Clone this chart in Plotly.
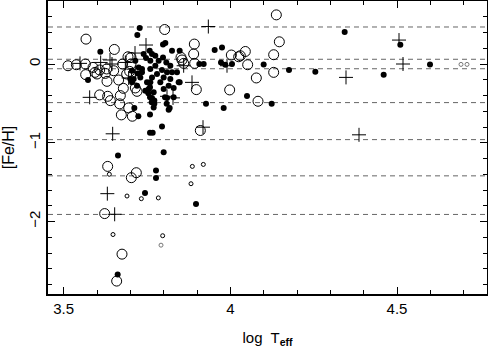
import plotly.graph_objects as go

# filled circles
filled_teff = [3.728, 3.721, 3.610, 3.573, 3.712, 3.759, 3.767, 3.795, 3.800, 3.663,
               3.777, 3.777, 3.744, 3.897, 3.662, 3.927, 3.980, 4.050, 3.953, 3.975,
               3.972, 3.985, 3.907, 3.920, 3.815, 3.770, 3.772, 3.848, 4.343, 4.510,
               4.100, 4.176, 4.255, 4.460, 4.599, 4.124, 3.759, 3.724, 3.805, 3.798,
               3.758, 3.825, 3.848, 3.775, 3.798, 3.785, 3.760, 3.808, 3.820, 3.775,
               3.760, 3.795, 3.810, 3.825, 3.780, 3.840, 3.765, 3.800, 3.820, 3.790,
               3.815, 3.800, 3.760, 3.755, 3.770, 3.830, 3.845, 4.005, 3.740, 3.715,
               3.725, 3.735, 3.705, 3.730, 3.710, 3.720, 3.750, 3.745, 3.830, 3.810,
               3.765, 3.700, 3.705, 3.722, 3.735, 3.747, 3.765, 3.759, 3.772, 3.818,
               3.754, 3.759, 3.764, 3.804, 3.809]
filled_feh = [0.456, 0.367, 0.156, -0.203, -0.557, -0.873, -0.873, -0.794, -1.119, -1.161,
              -1.351, -1.448, -1.638, -1.777, -2.671, -0.506, -0.557, -0.405, 0.177, 0.210,
              0.020, -0.009, 0.0, 0.0, -0.582, -0.553, -0.506, -0.233, 0.405, 0.244,
              -0.005, -0.076, -0.097, -0.135, -0.005, -0.506, -0.642, -0.663, 0.266, 0.248,
              0.168, 0.168, 0.168, 0.105, 0.084, 0.042, 0.042, 0.020, -0.022, -0.022,
              -0.063, -0.076, -0.106, -0.106, -0.127, -0.106, -0.170, -0.170, -0.190, -0.233,
              -0.275, -0.316, -0.233, -0.316, -0.359, -0.304, -0.233, 0.0, 0.127, 0.042,
              -0.043, -0.106, -0.085, -0.170, -0.190, -0.275, -0.233, -0.338, -0.423, -0.430,
              -0.430, -0.190, -0.233, -0.119, -0.063, 0.076, 0.127, -0.296, -0.464, -0.557,
              -0.372, -0.423, -0.486, -0.423, -0.506]

# open circles
open_teff = [3.567, 3.652, 3.803, 3.513, 3.538, 3.565, 3.566, 3.588, 3.608, 3.600,
             3.625, 3.630, 3.650, 3.665, 3.679, 3.677, 3.693, 3.702, 3.698, 3.715,
             3.720, 3.608, 3.632, 3.640, 3.670, 3.668, 3.695, 3.673, 3.706, 3.632,
             3.718, 3.703, 3.890, 3.855, 3.852, 3.860, 3.893, 3.898, 3.910, 3.998,
             4.003, 4.025, 4.045, 4.052, 4.138, 4.147, 4.130, 4.130, 4.078, 4.083,
             3.623, 3.675, 3.659, 3.892, 4.030, 3.594, 3.702, 3.689, 3.629]
open_feh = [0.316, 0.185, 0.438, -0.022, -0.009, 0.0, -0.135, -0.043, -0.076, -0.127,
            -0.119, -0.220, -0.085, -0.203, -0.309, 0.0, 0.092, 0.0, -0.094, -0.304,
            -0.347, -0.392, -0.410, -0.465, -0.401, -0.506, -0.557, -0.646, -0.663, -1.300,
            -1.380, -1.443, 0.127, 0.051, 0.084, 0.008, 0.008, -0.325, -0.844, -0.329,
            0.114, 0.092, 0.159, -0.009, 0.624, 0.282, 0.118, -0.106, -0.177, -0.473,
            -1.899, -2.414, -2.756, 0.253, 0.105, -0.106, 0.084, -0.127, -0.063]

# plus signs
plus_teff = [3.934, 3.747, 3.714, 3.645, 3.685, 3.695, 3.578, 3.647, 3.810, 3.885,
             3.918, 3.860, 3.990, 3.639, 3.611, 3.549, 4.506, 4.518, 4.347, 4.386,
             3.631, 3.653, 3.828, 3.715]
plus_feh = [0.476, 0.241, 0.139, 0.0, 0.020, -0.177, -0.423, -0.886, -0.410, -0.233,
            -0.802, -0.022, -0.022, 0.051, 0.020, 0.008, 0.304, 0.0, -0.170, -0.899,
            -1.646, -1.908, -0.430, -0.106]

# small open circles
small_teff = [3.637, 3.690, 3.733, 3.784, 3.882, 3.648, 3.797, 3.886, 3.919]
small_feh = [-1.40, -1.676, -1.71, -1.70, -1.52, -2.165, -2.18, -1.30, -1.275]

# small grey circles
grey_teff = [3.792, 4.692, 4.710]
grey_feh = [-2.30, -0.005, -0.005]

# dashed reference levels
fe_levels = [0.47, 0.06, -0.06, -0.49, -0.96, -1.42, -1.91]

FONT = "Liberation Sans, Arial, Helvetica, sans-serif"

fig = go.Figure()

for lvl in fe_levels:
    fig.add_hline(y=lvl, line=dict(color="#666666", width=1, dash="5px,4px"), layer="below")

fig.add_trace(go.Scatter(x=filled_teff, y=filled_feh, mode="markers",
                         marker=dict(symbol="circle", size=6, color="black")))
fig.add_trace(go.Scatter(x=open_teff, y=open_feh, mode="markers",
                         marker=dict(symbol="circle-open", size=10, color="black",
                                     line=dict(width=1))))
fig.add_trace(go.Scatter(x=plus_teff, y=plus_feh, mode="markers",
                         marker=dict(symbol="cross-thin-open", size=10, color="black",
                                     line=dict(width=1, color="black"))))
fig.add_trace(go.Scatter(x=small_teff, y=small_feh, mode="markers",
                         marker=dict(symbol="circle-open", size=4, color="black",
                                     line=dict(width=1))))
fig.add_trace(go.Scatter(x=grey_teff, y=grey_feh, mode="markers",
                         marker=dict(symbol="circle-open", size=4, color="#777777",
                                     line=dict(width=1))))

fig.update_layout(
    width=488, height=352,
    margin=dict(l=48, r=1, t=1, b=58),
    paper_bgcolor="white", plot_bgcolor="white",
    showlegend=False,
    font=dict(family=FONT, size=15, color="black"),
)

fig.update_xaxes(
    range=[3.453, 4.77], tick0=3.5, dtick=0.5,
    ticks="inside", ticklen=7, tickwidth=1, tickcolor="black",
    minor=dict(dtick=0.1, tick0=3.5, ticks="inside", ticklen=4, tickcolor="black"),
    showline=True, linecolor="black", linewidth=1.5, mirror="allticks",
    showgrid=False, zeroline=False, automargin=False,
    tickfont=dict(size=15),
    title=dict(text="log\u00a0 T<sub><b>eff</b></sub>", font=dict(size=15), standoff=17),
)
fig.update_yaxes(
    range=[-2.92, 0.80], tick0=0, dtick=1,
    ticks="inside", ticklen=7, tickwidth=1, tickcolor="black",
    minor=dict(dtick=0.2, tick0=0, ticks="inside", ticklen=4, tickcolor="black"),
    showline=True, linecolor="black", linewidth=1.5, mirror="allticks",
    showgrid=False, zeroline=False, automargin=False,
    tickangle=-90, tickfont=dict(size=15),
    title=dict(text="[Fe/H]", font=dict(size=16), standoff=10),
)

# drop the browser's default page margin so the figure sits at the window corner
fig.write_html("out.html", config={"displayModeBar": False},
               post_script="document.body.style.margin='0';")
